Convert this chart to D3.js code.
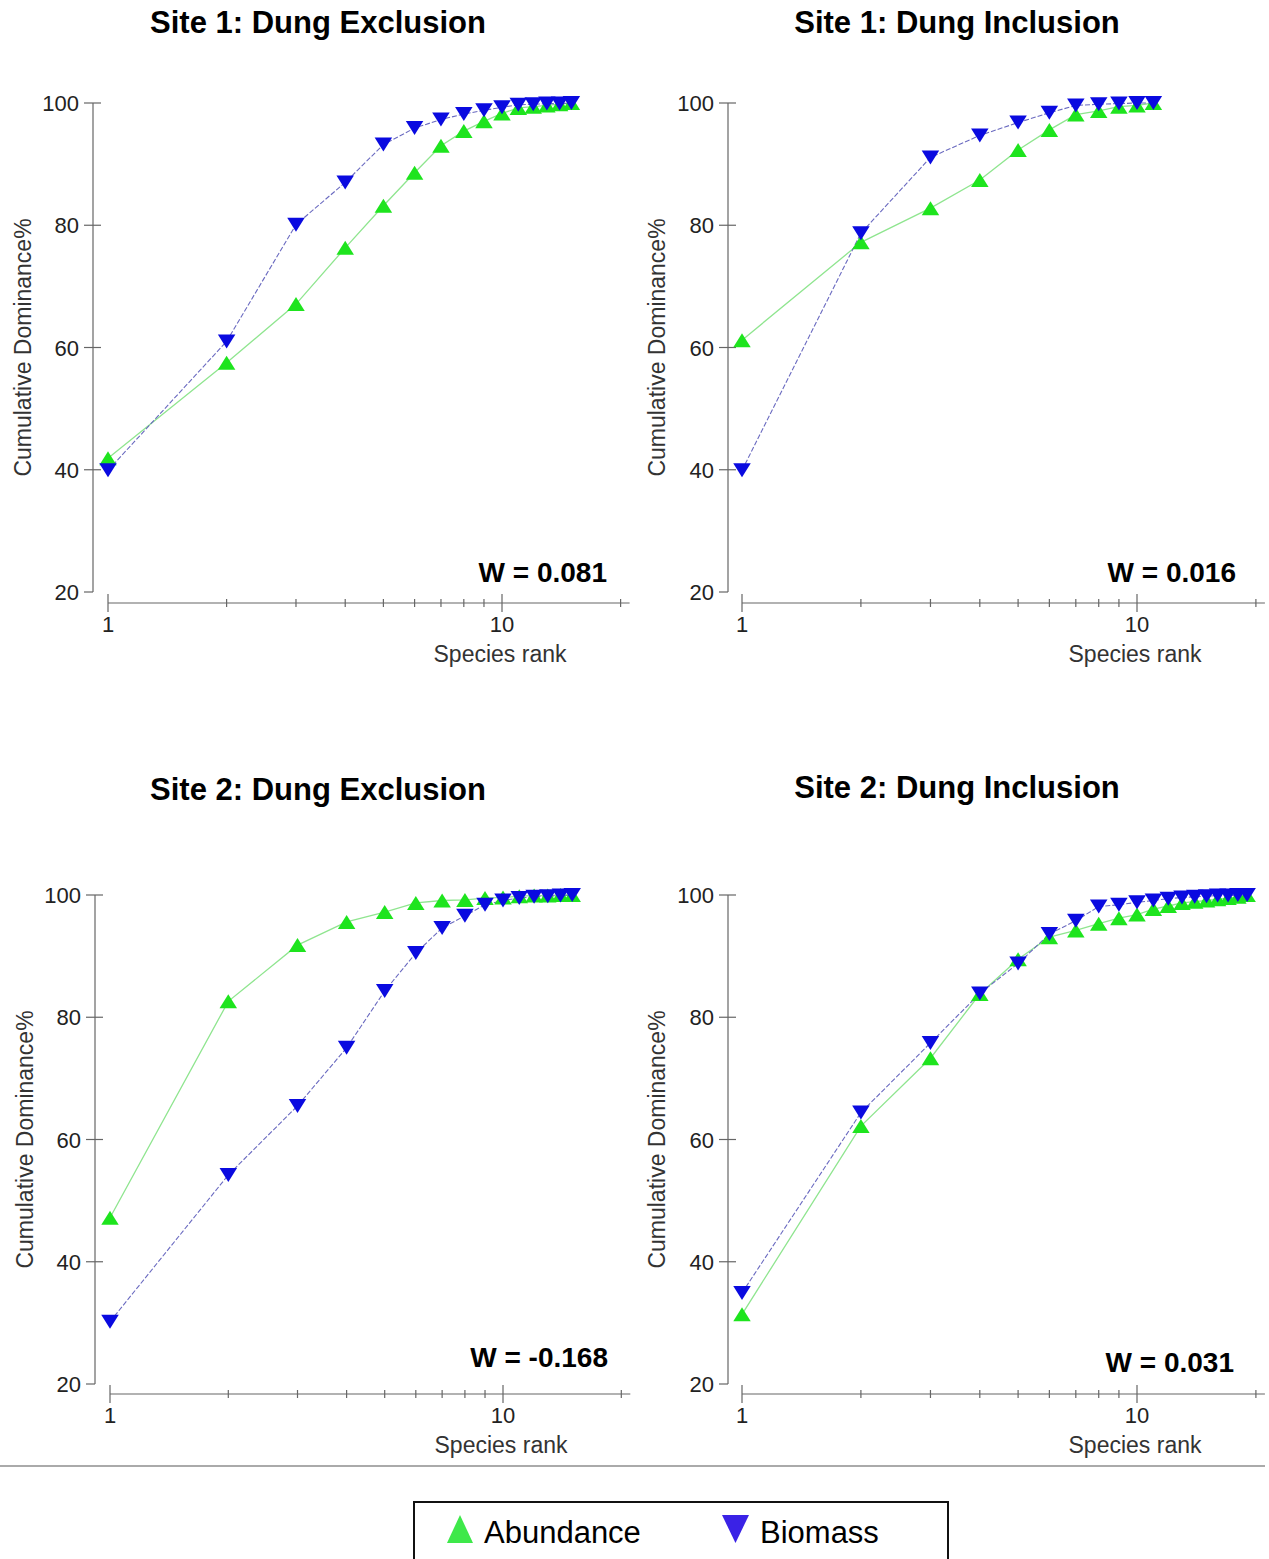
<!DOCTYPE html>
<html lang="en">
<head>
<meta charset="utf-8">
<title>Dominance curves</title>
<script src="https://cdn.jsdelivr.net/npm/d3@7"></script>
<style>
  body { margin: 0; background: #fff; }
  text { font-family: "Liberation Sans", Arial, sans-serif; }
</style>
</head>
<body>
<script type="text/javascript">

var width = 1269;
var height = 1559;

// panel titles and W statistics
var titles = ["Site 1: Dung Exclusion", "Site 1: Dung Inclusion",
              "Site 2: Dung Exclusion", "Site 2: Dung Inclusion"];
var wLabels = ["W = 0.081", "W = 0.016", "W = -0.168", "W = 0.031"];

var xTicks = [1, 2, 3, 4, 5, 6, 7, 8, 9, 10, 20];
var xTickLabels = [1, 10];
var yTicks = [20, 40, 60, 80, 100];

// cumulative dominance %, species rank 1..n
var s1exAbundance = [41.9, 57.5, 67.1, 76.3, 83.2, 88.6, 93.0, 95.4, 97.0, 98.3, 99.2, 99.4, 99.6, 99.8, 100];
var s1exBiomass   = [39.9, 61.0, 80.1, 87.0, 93.2, 95.9, 97.3, 98.2, 98.8, 99.3, 99.7, 99.8, 99.9, 99.9, 100];

var s1inAbundance = [61.2, 77.2, 82.8, 87.4, 92.3, 95.6, 98.1, 98.7, 99.4, 99.6, 100];
var s1inBiomass   = [39.9, 78.7, 91.1, 94.7, 96.8, 98.4, 99.6, 99.8, 99.9, 100, 100];

var s2exAbundance = [47.2, 82.6, 91.8, 95.6, 97.2, 98.7, 99.1, 99.2, 99.5, 99.6, 99.8, 99.9, 99.9, 100, 100];
var s2exBiomass   = [30.2, 54.2, 65.5, 75.0, 84.3, 90.5, 94.6, 96.6, 98.4, 99.1, 99.5, 99.7, 99.8, 99.9, 100];

var s2inAbundance = [31.4, 62.2, 73.3, 83.8, 89.5, 93.1, 94.2, 95.3, 96.2, 96.8, 97.7, 98.2, 98.7, 98.9, 99.1, 99.3, 99.5, 99.7, 100];
var s2inBiomass   = [34.9, 64.4, 75.8, 83.9, 88.8, 93.6, 95.8, 98.1, 98.4, 98.8, 99.1, 99.4, 99.6, 99.7, 99.8, 99.9, 99.9, 100, 100];

var legendLabels = ["Abundance", "Biomass"];

var green = "#1ee41e", greenLine = "#8fe58f";
var blue = "#0a0ae0", blueLine = "#6a6ac0";

var panels = [
  {ab: s1exAbundance, bio: s1exBiomass, px1: 108, px10: 502, top: 103, bot: 592, axX: 93,  axY: 603,  titleX: 318, titleY: 33,  wX: 607,  wY: 582,  labX: 31},
  {ab: s1inAbundance, bio: s1inBiomass, px1: 742, px10: 1137, top: 103, bot: 592, axX: 728, axY: 603,  titleX: 957, titleY: 33,  wX: 1236, wY: 582,  labX: 665},
  {ab: s2exAbundance, bio: s2exBiomass, px1: 110, px10: 503, top: 895, bot: 1384, axX: 95,  axY: 1394, titleX: 318, titleY: 800, wX: 608,  wY: 1367, labX: 33},
  {ab: s2inAbundance, bio: s2inBiomass, px1: 742, px10: 1137, top: 895, bot: 1384, axX: 728, axY: 1394, titleX: 957, titleY: 798, wX: 1234, wY: 1372, labX: 665}
];

var svg = d3.select("body").append("svg")
            .attr("width", width)
            .attr("height", height);

function triUp(s) {
    return "M" + (-s * 0.5) + "," + (s * 0.4) + "L0," + (-s * 0.4) + "L" + (s * 0.5) + "," + (s * 0.4) + "Z";
}
function triDown(s) {
    return "M" + (-s * 0.5) + "," + (-s * 0.4) + "L0," + (s * 0.4) + "L" + (s * 0.5) + "," + (-s * 0.4) + "Z";
}

panels.forEach(function(p, i){
    var x = d3.scaleLog().domain([1, 10]).range([p.px1, p.px10]);
    var y = d3.scaleLinear().domain([20, 100]).range([p.bot, p.top]);
    var g = svg.append("g");

    g.append("text")
        .attr("x", p.titleX).attr("y", p.titleY)
        .attr("text-anchor", "middle")
        .attr("font-size", 31).attr("font-weight", "bold")
        .text(titles[i]);

    // y axis
    g.append("line")
        .attr("x1", p.axX).attr("x2", p.axX)
        .attr("y1", y(100)).attr("y2", y(20))
        .attr("stroke", "#666").attr("stroke-width", 1.2);
    g.selectAll(".ytick").data(yTicks).enter().append("line")
        .attr("x1", p.axX - 9).attr("x2", function(d){ return d === 20 ? p.axX : p.axX + 8; })
        .attr("y1", function(d){ return y(d); }).attr("y2", function(d){ return y(d); })
        .attr("stroke", "#666").attr("stroke-width", 1.2);
    g.selectAll(".ylab").data(yTicks).enter().append("text")
        .attr("x", p.axX - 14).attr("y", function(d){ return y(d) + 8; })
        .attr("text-anchor", "end").attr("font-size", 22).attr("fill", "#222")
        .text(function(d){ return d; });

    g.append("text")
        .attr("transform", "translate(" + p.labX + "," + ((p.top + p.bot) / 2) + ") rotate(-90)")
        .attr("text-anchor", "middle").attr("font-size", 23).attr("fill", "#333")
        .text("Cumulative Dominance%");

    // x axis
    g.append("line")
        .attr("x1", x(1)).attr("x2", x(20) + 9)
        .attr("y1", p.axY).attr("y2", p.axY)
        .attr("stroke", "#666").attr("stroke-width", 1.2);
    g.selectAll(".xtick").data(xTicks).enter().append("line")
        .attr("x1", function(d){ return x(d); }).attr("x2", function(d){ return x(d); })
        .attr("y1", function(d){ return d === 1 || d === 10 ? p.axY - 9 : p.axY - 4; })
        .attr("y2", function(d){ return d === 1 || d === 10 ? p.axY + 9 : p.axY + 4; })
        .attr("stroke", "#666").attr("stroke-width", 1.2);
    g.selectAll(".xlab").data(xTickLabels).enter().append("text")
        .attr("x", function(d){ return x(d); }).attr("y", p.axY + 29)
        .attr("text-anchor", "middle").attr("font-size", 22).attr("fill", "#222")
        .text(function(d){ return d; });
    g.append("text")
        .attr("x", x(10) - 2).attr("y", p.axY + 59)
        .attr("text-anchor", "middle").attr("font-size", 23).attr("fill", "#333")
        .text("Species rank");

    // lines
    var line = d3.line()
        .x(function(d, j){ return x(j + 1); })
        .y(function(d){ return y(d); });
    g.append("path").attr("d", line(p.ab))
        .attr("fill", "none").attr("stroke", greenLine).attr("stroke-width", 1.3);
    g.append("path").attr("d", line(p.bio))
        .attr("fill", "none").attr("stroke", blueLine).attr("stroke-width", 1.1)
        .attr("stroke-dasharray", "5,2");

    // markers
    g.selectAll(".ab").data(p.ab).enter().append("path")
        .attr("d", triUp(17.5))
        .attr("transform", function(d, j){ return "translate(" + x(j + 1) + "," + y(d) + ")"; })
        .attr("fill", green);
    g.selectAll(".bio").data(p.bio).enter().append("path")
        .attr("d", triDown(17.5))
        .attr("transform", function(d, j){ return "translate(" + x(j + 1) + "," + y(d) + ")"; })
        .attr("fill", blue);

    g.append("text")
        .attr("x", p.wX).attr("y", p.wY)
        .attr("text-anchor", "end")
        .attr("font-size", 28).attr("font-weight", "bold")
        .text(wLabels[i]);
});

// separator and legend
svg.append("line")
    .attr("x1", 0).attr("x2", 1265).attr("y1", 1466).attr("y2", 1466)
    .attr("stroke", "#aaa").attr("stroke-width", 2);

svg.append("rect")
    .attr("x", 414).attr("y", 1502).attr("width", 534).attr("height", 80)
    .attr("fill", "none").attr("stroke", "#111").attr("stroke-width", 2);

svg.append("path").attr("d", "M447,1543L460,1515L473,1543Z").attr("fill", "#3ee84a");
svg.append("text").attr("x", 484).attr("y", 1543).attr("font-size", 31).text(legendLabels[0]);
svg.append("path").attr("d", "M722,1515L749,1515L735.5,1543Z").attr("fill", "#3a22e6");
svg.append("text").attr("x", 760).attr("y", 1543).attr("font-size", 31).text(legendLabels[1]);

</script>
</body></html>
